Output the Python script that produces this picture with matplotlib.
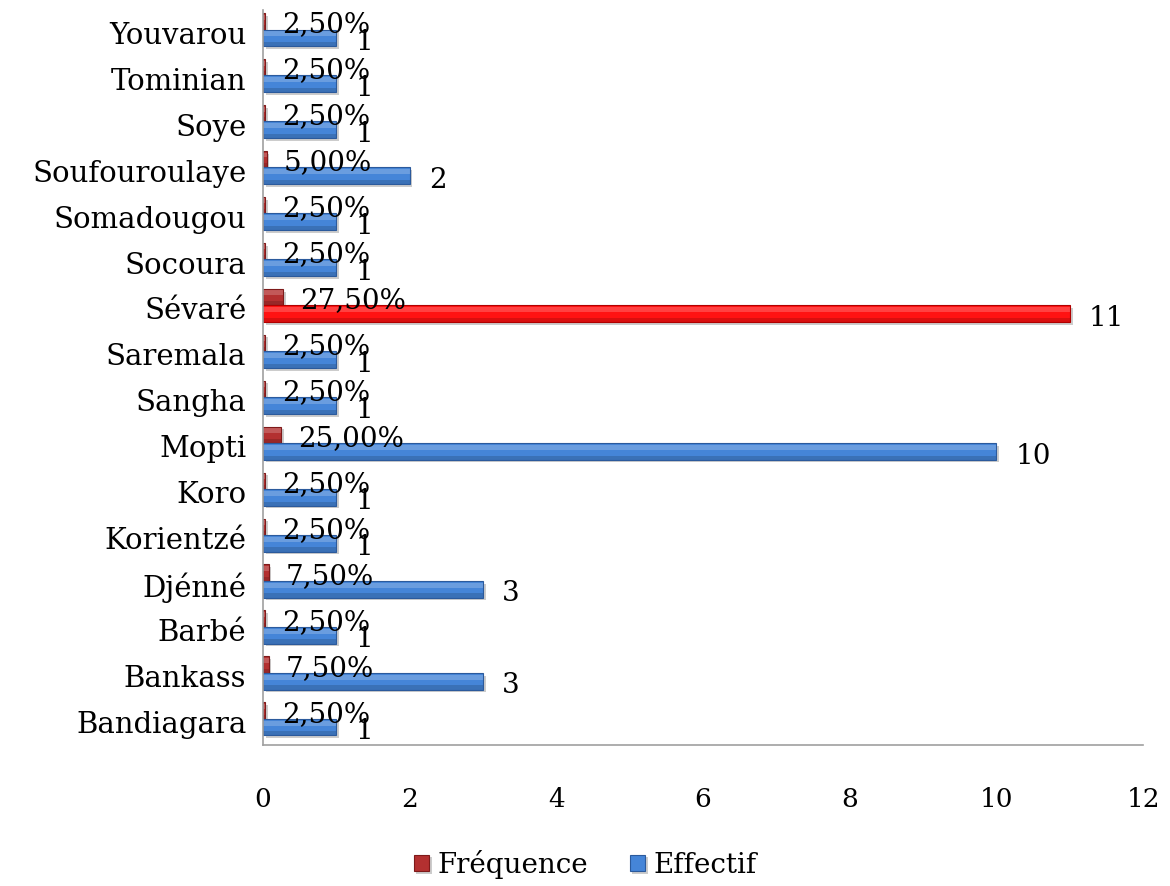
import numpy as np
import matplotlib.pyplot as plt
import matplotlib.patheffects as pe
from matplotlib.patches import Rectangle

communes = ["Bandiagara", "Bankass", "Barbé", "Djénné", "Korientzé", "Koro",
            "Mopti", "Sangha", "Saremala", "Sévaré", "Socoura", "Somadougou",
            "Soufouroulaye", "Soye", "Tominian", "Youvarou"]
effectif = [1, 3, 1, 3, 1, 1, 10, 1, 1, 11, 1, 1, 2, 1, 1, 1]
frequence = [0.025, 0.075, 0.025, 0.075, 0.025, 0.025, 0.25, 0.025, 0.025,
             0.275, 0.025, 0.025, 0.05, 0.025, 0.025, 0.025]
xticks = [0, 2, 4, 6, 8, 10, 12]

plt.rcParams['font.family'] = ['DejaVu Serif']
plt.rcParams['font.size'] = 20

blue = '#4585D8'
blue_edge = '#2B5A9C'
red_freq = '#B33030'
red_freq_edge = '#7E1A1A'
red_hi = '#FF1212'
red_hi_edge = '#B00000'

fig = plt.figure(figsize=(11.7, 8.86), dpi=100)
ax = fig.add_axes([0.2248, 0.159, 0.7522, 0.830])

y = np.arange(len(communes))
h = 0.36
shift = 0.07
shadow = [pe.SimplePatchShadow(offset=(2, -2), shadow_rgbFace='#9a9a9a', alpha=0.5),
          pe.Normal()]

eff_colors = [red_hi if c == "Sévaré" else blue for c in communes]
eff_edges = [red_hi_edge if c == "Sévaré" else blue_edge for c in communes]

bf = ax.barh(y + shift + h / 2, frequence, height=h, color=red_freq,
             edgecolor=red_freq_edge, linewidth=0.8, label='Fréquence')
be = ax.barh(y + shift - h / 2, effectif, height=h, color=eff_colors,
             edgecolor=eff_edges, linewidth=0.8, label='Effectif')
for b in list(bf) + list(be):
    b.set_path_effects(shadow)
    # lighter top band and darker bottom band give a bevelled look
    x0, y0 = b.get_x(), b.get_y()
    w, hh = b.get_width(), b.get_height()
    ax.add_patch(Rectangle((x0, y0 + hh * 0.6), w, hh * 0.3,
                           facecolor='white', alpha=0.2, linewidth=0))
    ax.add_patch(Rectangle((x0, y0), w, hh * 0.25,
                           facecolor='black', alpha=0.15, linewidth=0))

for yi, f in zip(y, frequence):
    ax.annotate(f"{f * 100:.2f}%".replace('.', ','), (f, yi + shift + h / 2 - 0.08),
                xytext=(17, 0), textcoords='offset pixels',
                va='center', ha='left', fontsize=20)
for yi, e in zip(y, effectif):
    ax.annotate(str(e), (e, yi + shift - h / 2 - 0.1),
                xytext=(19, 0), textcoords='offset pixels',
                va='center', ha='left', fontsize=20)

ax.set_xlim(0, 12)
ax.set_ylim(-0.5, len(communes) - 0.5)
ax.set_xticks(xticks)
ax.set_yticks(y)
ax.set_yticklabels(communes, fontsize=21)
ax.tick_params(axis='y', length=0, pad=12)
ax.tick_params(axis='x', length=0, pad=30, labelsize=19)
for s in ['top', 'right']:
    ax.spines[s].set_visible(False)
for s in ['left', 'bottom']:
    ax.spines[s].set_color('#a0a0a0')
    ax.spines[s].set_linewidth(1.2)

fig.legend(handles=[bf, be], loc='lower center', ncol=2, frameon=False,
           bbox_to_anchor=(0.5, -0.02), handlelength=0.55, handleheight=0.55,
           handletextpad=0.3, columnspacing=1.5, fontsize=20)

fig.savefig('out.png', dpi=100)
